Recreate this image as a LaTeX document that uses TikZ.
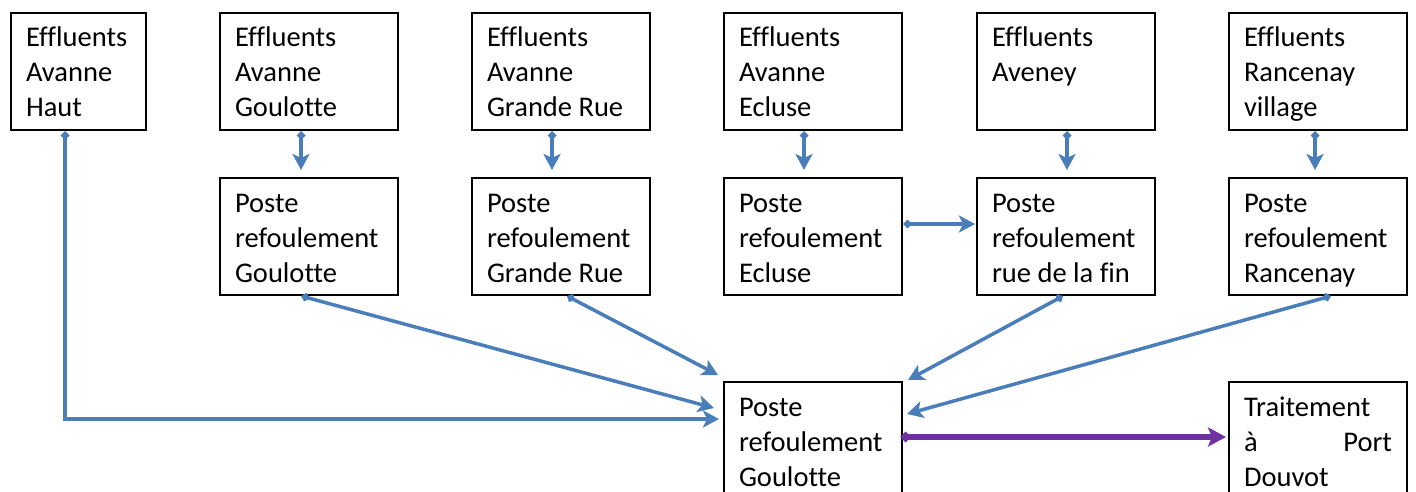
\documentclass[tikz,border=0pt]{standalone}
\usepackage{fontspec}
\setmainfont[Ligatures=NoCommon]{Carlito}
\usetikzlibrary{arrows.meta}
\definecolor{flowblue}{HTML}{4A7EBB}
\definecolor{flowpurple}{HTML}{7030A0}
% text of a box: first baseline 34pt below the top, 15pt side margins
\newcommand\boxtext[2]{\parbox[c][117pt][t]{#1}{\parindent=0pt\leftskip=15pt\rightskip=15pt plus 1fil\rule{0pt}{34pt}#2}}
\tikzset{
  box/.style={draw=black, line width=2pt, inner sep=0pt, anchor=north west,
    font=\fontsize{28.5}{35}\selectfont},
  flow/.style={draw=flowblue, line width=3.5pt,
    {Diamond[length=9pt,width=9pt]}-{Stealth[length=16pt,width=17pt,inset=4pt]}},
  outflow/.style={draw=flowpurple, line width=5.5pt,
    {Diamond[length=11pt,width=11pt]}-{Stealth[length=18pt,width=19pt,inset=4pt]}},
}
\begin{document}
\begin{tikzpicture}[x=1pt,y=-1pt]
\useasboundingbox (0,0) rectangle (1416,492);

% sources
\node[box] (e1) at (10,12)   {\boxtext{135pt}{Effluents\\Avanne\\Haut}};
\node[box] (e2) at (219,12)  {\boxtext{178pt}{Effluents\\Avanne\\Goulotte}};
\node[box] (e3) at (471,12)  {\boxtext{178pt}{Effluents\\Avanne\\Grande Rue}};
\node[box] (e4) at (723,12)  {\boxtext{178pt}{Effluents\\Avanne\\Ecluse}};
\node[box] (e5) at (976,12)  {\boxtext{178pt}{Effluents\\Aveney}};
\node[box] (e6) at (1228,12) {\boxtext{178pt}{Effluents\\Rancenay\\village}};

% pumping stations
\node[box] (p2) at (219,177)  {\boxtext{178pt}{Poste\\refoulement\\Goulotte}};
\node[box] (p3) at (471,177)  {\boxtext{178pt}{Poste\\refoulement\\Grande Rue}};
\node[box] (p4) at (723,177)  {\boxtext{178pt}{Poste\\refoulement\\Ecluse}};
\node[box] (p5) at (976,177)  {\boxtext{178pt}{Poste\\refoulement\\rue de la fin}};
\node[box] (p6) at (1228,177) {\boxtext{178pt}{Poste\\refoulement\\Rancenay}};

% main station and treatment
\node[box] (pc) at (723,381)  {\boxtext{178pt}{Poste\\refoulement\\Goulotte}};
\node[box] (tr) at (1228,381) {\boxtext{178pt}{Traitement\\à\hskip0pt plus 1fill Port\\Douvot}};

% sources to stations
\draw[flow, shorten >=7pt] ([xshift=-8pt]e2.south) -- ([xshift=-8pt]p2.north);
\draw[flow, shorten >=7pt] ([xshift=-9pt]e3.south) -- ([xshift=-9pt]p3.north);
\draw[flow, shorten >=7pt] ([xshift=-9pt]e4.south) -- ([xshift=-9pt]p4.north);
\draw[flow, shorten >=7pt] ([xshift=1pt]e5.south) -- ([xshift=1pt]p5.north);
\draw[flow, shorten >=7pt] ([xshift=-3pt]e6.south) -- ([xshift=-3pt]p6.north);

% direct line from Avanne Haut
\draw[flow, shorten >=4pt] ([xshift=-13.5pt]e1.south) |- ([yshift=21.5pt]pc.west);

% stations to main station
\draw[flow] ([xshift=-8pt]p2.south) -- ([xshift=-9pt,yshift=32.5pt]pc.west);
\draw[flow] ([xshift=6pt]p3.south) -- ([xshift=-5pt,yshift=6pt]pc.north west);
\draw[flow, shorten >=1pt] ([yshift=12.5pt]p4.east) -- ([yshift=12.5pt]p5.west);
\draw[flow] ([xshift=-3pt]p5.south) -- ([xshift=5pt,yshift=1pt]pc.north east);
\draw[flow] ([xshift=13pt]p6.south) -- ([xshift=4pt,yshift=26.5pt]pc.east);

% to treatment
\draw[outflow] ([xshift=-3pt,yshift=3.5pt]pc.east) -- ([xshift=-2pt,yshift=3.5pt]tr.west);
\end{tikzpicture}
\end{document}
